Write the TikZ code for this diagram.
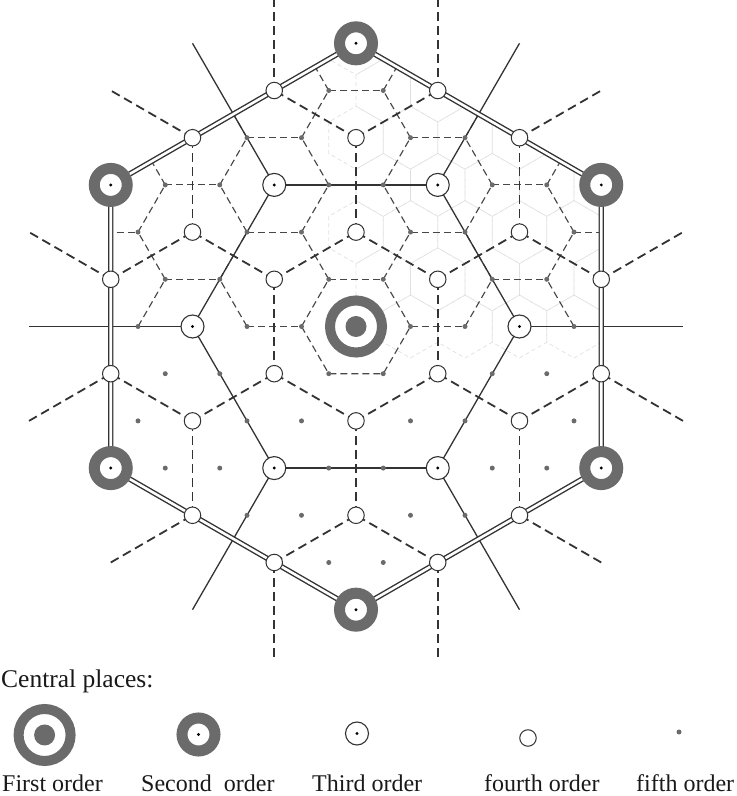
\documentclass[tikz,border=0pt]{standalone}
\usepackage{fontspec}
\setmainfont{Liberation Serif}
\usetikzlibrary{calc}

\definecolor{ring}{gray}{0.42}
\definecolor{ink}{gray}{0.2}

\newcommand\cpStep{54.5}
% order of the place at lattice point (#1,#2) -> #3
\newcommand\cpOrder[3]{%
  \pgfmathtruncatemacro\cpA{Mod((#1)-(#2),3)}%
  \pgfmathtruncatemacro\cpB{Mod(#1,3)}%
  \ifnum\cpA>0 \def#3{5}\else
    \ifnum\cpB>0 \def#3{4}\else
      \pgfmathtruncatemacro\cpC{Mod(((#1)-(#2))/3,3)}%
      \pgfmathtruncatemacro\cpD{Mod((#1)/3,3)}%
      \ifnum\cpC>0 \def#3{3}\else
        \ifnum\cpD>0 \def#3{2}\else \def#3{1}\fi
      \fi
    \fi
  \fi}
% hexagonal distance from the centre (9 = on the outer hexagon)
\newcommand\cpHex[3]{%
  \pgfmathtruncatemacro#3{max(abs(2*(#1)+(#2)),abs((#1)+2*(#2)),abs((#1)-(#2)))}}

\begin{document}
\begin{tikzpicture}[x=1pt, y=1pt,
    m1/.style={draw=ink, line width=1.4pt, double=white, double distance=2.6pt},
    m2/.style={draw=ink, line width=1.3pt},
    m3/.style={draw=ink, line width=1.8pt, dash pattern=on 9pt off 5pt},
    m4/.style={draw=ink!90, line width=1.15pt, dash pattern=on 7pt off 4pt},
    m5/.style={draw=black!12, line width=0.7pt, dash pattern=on 4pt off 3pt},
    o1/.style={circle, inner sep=0pt, minimum size=52pt, draw=ring, line width=10pt, fill=white,
      path picture={\fill[ring] (path picture bounding box.center) circle (10.5pt);}},
    o2/.style={circle, inner sep=0pt, minimum size=33pt, draw=ring, line width=11pt, fill=white,
      path picture={\fill[black] (path picture bounding box.center) circle (1.6pt);}},
    o3/.style={circle, inner sep=0pt, minimum size=23pt, draw=ink, line width=1.1pt, fill=white,
      path picture={\fill[black] (path picture bounding box.center) circle (1.6pt);}},
    o4/.style={circle, inner sep=0pt, minimum size=16.5pt, draw=ink, line width=1pt, fill=white},
    o5/.style={circle, inner sep=0pt, minimum size=5pt, fill=ring},
    lbl/.style={font=\fontsize{24}{28}\selectfont, anchor=base west, inner sep=0pt, text=black!90}
  ]
  \useasboundingbox (0,0) rectangle (737,796);

  % lattice of the fifth-order places
  \foreach \i in {-11,...,11}{
    \foreach \j in {-11,...,11}{
      \coordinate (p\i x\j) at ({356+\cpStep*(\i+\j/2)}, {469.5+\cpStep*0.866*\j});
    }}

  % market areas of the fifth and fourth order (upper half)
  \begin{scope}
    \clip (p-3x6) -- (p3x3) -- (p6x-3) -- (p3x-6) -- (p-3x-3) -- (p-6x3) -- cycle;
    \foreach \i in {-8,...,8}{
      \foreach \j in {0,...,8}{
        \pgfmathtruncatemacro\cpS{2*\i+\j}
        \cpHex{\i}{\j}\hA
        \ifnum\cpS>-1 \ifnum\hA<10
          \draw[m5] (p\i x\j) ++(30:31.5) -- ++(150:31.5) -- ++(210:31.5)
            -- ++(270:31.5) -- ++(330:31.5) -- ++(30:31.5) -- cycle;
        \fi\fi
      }}
    \foreach \i in {-8,...,8}{
      \foreach \j in {0,...,8}{
        \cpOrder{\i}{\j}\oA
        \ifnum\oA=5
          \foreach \di/\dj in {1/0,0/1,-1/1}{
            \pgfmathtruncatemacro\ni{\i+\di}
            \pgfmathtruncatemacro\nj{\j+\dj}
            \cpOrder{\ni}{\nj}\oB
            \ifnum\oB=5 \draw[m4] (p\i x\j) -- (p\ni x\nj); \fi
          }
        \fi
      }}
    \draw[m4] (p-1x0) -- (p0x-1) -- (p1x-1) -- (p1x0);
  \end{scope}

  % market areas of the third order
  \foreach \i in {-8,...,8}{
    \foreach \j in {-8,...,8}{
      \cpOrder{\i}{\j}\oA
      \ifnum\oA=4
        \foreach \di/\dj in {1/1,-1/2,-2/1}{
          \pgfmathtruncatemacro\ni{\i+\di}
          \pgfmathtruncatemacro\nj{\j+\dj}
          \cpOrder{\ni}{\nj}\oB
          \ifnum\oB=4
            \cpHex{\i}{\j}\hA
            \cpHex{\ni}{\nj}\hB
            \pgfmathtruncatemacro\hM{min(\hA,\hB)}
            \ifnum\hM<10 \draw[m3] (p\i x\j) -- (p\ni x\nj); \fi
          \fi
        }
      \fi
    }}

  % market areas of the second order
  \foreach \i in {-8,...,8}{
    \foreach \j in {-8,...,8}{
      \cpOrder{\i}{\j}\oA
      \ifnum\oA=3
        \foreach \di/\dj in {3/0,0/3,-3/3}{
          \pgfmathtruncatemacro\ni{\i+\di}
          \pgfmathtruncatemacro\nj{\j+\dj}
          \cpOrder{\ni}{\nj}\oB
          \ifnum\oB=3
            \cpHex{\i}{\j}\hA
            \cpHex{\ni}{\nj}\hB
            \pgfmathtruncatemacro\hM{min(\hA,\hB)}
            \ifnum\hM<10 \draw[m2] (p\i x\j) -- (p\ni x\nj); \fi
          \fi
        }
      \fi
    }}

  % market area of the first order
  \draw[m1] (p-3x6) -- (p3x3) -- (p6x-3) -- (p3x-6) -- (p-3x-3) -- (p-6x3) -- cycle;

  % central places
  \foreach \i in {-8,...,8}{
    \foreach \j in {-8,...,8}{
      \cpHex{\i}{\j}\hA
      \ifnum\hA<10
        \cpOrder{\i}{\j}\oA
        \node[o\oA] (c\i x\j) at (p\i x\j) {};
      \fi
    }}

  % legend
  \node[lbl, font=\fontsize{25.5}{30}\selectfont] (head) at (1,108) {Central places:};
  \node[o1] (l1) at (44.6,61) {};
  \node[o2] (l2) at (198.5,61.5) {};
  \node[o3] (l3) at (357,62.5) {};
  \node[o4] (l4) at (528,58) {};
  \node[o5] (l5) at (679,64) {};
  \node[lbl] (t1) at (2,5) {First order};
  \node[lbl] (t2) at (141,5) {Second\ \ order};
  \node[lbl] (t3) at (312,5) {Third order};
  \node[lbl] (t4) at (484,5) {fourth order};
  \node[lbl] (t5) at (636,5) {fifth order};
\end{tikzpicture}
\end{document}
